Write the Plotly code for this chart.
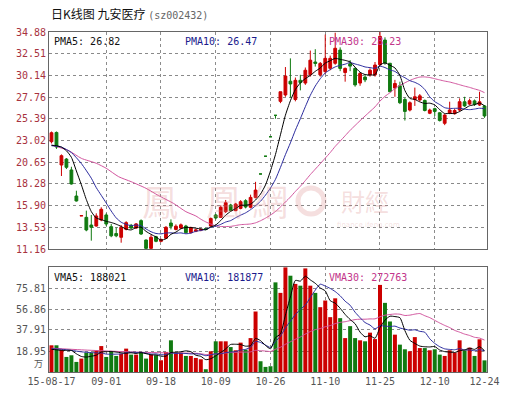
import plotly.graph_objects as go

# ---------------- data ----------------
opens = [22.89, 23.9, 20.34, 20.99, 19.8, 16.95, 14.78, 14.62, 13.78, 13.67,
         14.33, 14.88, 13.6, 12.85, 12.44, 13.31, 13.75, 13.45, 14.26, 12.14,
         11.23, 12.5, 12.0, 12.33, 14.0, 13.3, 13.45, 13.67, 12.95, 13.1,
         13.2, 13.4, 13.67, 14.88, 14.62, 15.24, 15.97, 15.35, 15.6, 16.44,
         15.72, 16.8, 19.36, 21.3, 23.43, 25.77, 27.3, 28.0, 29.5, 27.5,
         29.6, 29.3, 30.2, 31.6, 30.2, 30.55, 30.91, 31.46, 32.9, 30.45,
         31.4, 30.9, 29.3, 29.95, 30.2, 30.2, 31.3, 34.0, 31.46, 28.75,
         29.0, 27.5, 26.35, 27.5, 27.45, 27.4, 26.0, 26.5, 26.05, 24.9,
         26.0, 25.95, 26.35, 27.25, 27.0, 27.35, 26.9, 26.8]
highs = [24.0, 24.0, 21.5, 21.1, 20.15, 17.53, 14.8, 15.35, 14.88, 15.06,
         15.72, 15.06, 13.9, 13.5, 13.78, 14.2, 13.9, 14.0, 14.4, 12.2,
         12.7, 12.6, 12.3, 13.67, 14.4, 13.85, 13.95, 13.8, 13.6, 13.35,
         13.4, 13.45, 14.6, 15.0, 15.93, 16.52, 16.1, 16.2, 16.5, 16.6,
         17.1, 18.5, 19.36, 21.3, 23.43, 25.77, 28.35, 31.05, 32.0, 29.9,
         30.2, 31.0, 32.85, 33.0, 31.6, 34.6, 32.3, 34.8, 33.2, 31.0,
         31.8, 31.0, 30.5, 30.2, 30.9, 31.6, 34.88, 34.3, 31.5, 29.65,
         29.45, 27.7, 27.3, 28.8, 28.1, 27.5, 26.5, 26.6, 26.1, 25.9,
         27.26, 26.5, 27.63, 27.8, 27.6, 27.5, 28.35, 26.9]
lows = [22.7, 22.1, 19.14, 19.9, 18.2, 16.35, 14.78, 13.1, 12.07, 13.6,
        14.2, 13.67, 12.45, 12.45, 11.85, 13.2, 13.35, 13.35, 12.7, 11.16,
        11.16, 11.9, 11.9, 12.3, 13.3, 13.2, 13.35, 12.85, 12.85, 13.0,
        13.1, 13.2, 13.6, 14.4, 14.55, 15.1, 15.3, 15.3, 15.5, 15.6,
        15.6, 16.7, 19.36, 21.3, 23.43, 25.4, 27.1, 27.8, 27.7, 27.3,
        28.5, 29.1, 30.0, 31.1, 30.0, 30.3, 30.7, 31.3, 30.6, 29.45,
        30.6, 28.9, 29.0, 29.4, 30.0, 30.0, 31.2, 31.3, 28.35, 27.8,
        27.0, 25.2, 26.2, 26.8, 27.3, 26.2, 25.9, 25.7, 25.1, 24.7,
        25.9, 25.85, 26.2, 26.7, 26.9, 26.8, 26.8, 25.5]
closes = [23.87, 22.31, 21.36, 20.09, 18.27, 16.41, 14.8, 13.24, 13.53, 14.77,
          15.5, 13.89, 12.6, 12.6, 13.53, 14.04, 13.45, 13.9, 12.8, 11.23,
          12.44, 12.0, 12.2, 13.53, 13.65, 13.65, 13.8, 12.95, 13.5, 13.25,
          13.3, 13.3, 14.5, 14.55, 15.72, 16.22, 15.35, 16.08, 16.33, 15.75,
          16.8, 17.6, 19.36, 21.3, 23.43, 25.77, 28.35, 30.07, 29.2, 29.6,
          29.35, 30.7, 31.8, 31.45, 31.45, 32.0, 32.0, 33.1, 30.9, 30.9,
          31.15, 29.1, 30.35, 29.65, 30.7, 31.27, 34.4, 31.5, 28.35, 29.25,
          27.15, 26.2, 27.15, 27.8, 27.9, 26.3, 26.35, 26.2, 25.2, 25.8,
          26.35, 26.3, 27.26, 26.8, 27.37, 26.95, 27.25, 25.7]
volumes = [24.1, 24.1, 20.2, 13.6, 15.1, 9.1, 12.1, 17.5, 17.5, 19.6,
           23.4, 13.6, 18.7, 14.5, 16.6, 21.1, 15.7, 15.7, 18.1, 12.1,
           15.7, 15.1, 10.6, 18.1, 28.6, 16.6, 17.5, 14.5, 14.5, 12.7,
           11.5, 2.5, 18.7, 27.7, 27.7, 27.7, 22.5, 19.6, 26.5, 20.2,
           30.6, 54.6, 9.7, 4.6, 5.2, 80.9, 71.4, 94.4, 86.9, 79.5,
           77.9, 93.5, 77.9, 71.4, 58.5, 64.5, 49.5, 66.5, 48.6, 30.6,
           41.4, 30.6, 28.6, 27.7, 35.5, 29.7, 78.6, 62.4, 45.6, 33.7,
           24.7, 20.5, 18.7, 31.5, 21.6, 21.6, 19.6, 20.5, 15.7, 14.5,
           19.6, 17.5, 28.6, 19.5, 22.0, 14.5, 29.5, 10.5]

# moving-average values before a full window exists
ma5_head_x, ma5_head_y = [0, 1, 2, 3], [22.5, 22.45, 22.3, 21.9]
ma10_head_x, ma10_head_y = [0, 2, 4, 6, 8], [22.45, 22.3, 21.7, 20.5, 18.9]
ma30_head_x = [0, 3.5, 6, 9, 11, 13.5, 16, 19, 21.5, 24.5, 27]
ma30_head_y = [22.53, 21.9, 21.07, 20.53, 19.98, 19.06, 18.52, 17.79, 17.0, 16.15, 15.24]
vma5_head_x, vma5_head_y = [0, 1, 2, 3], [20.5, 20.0, 19.5, 19.5]
vma10_head_x, vma10_head_y = [0, 2, 4, 6, 8], [21.0, 20.5, 19.5, 18.2, 17.5]
vma30_head_x, vma30_head_y = [0, 6, 12, 18, 24], [21.5, 20.0, 18.8, 17.8, 17.2]

tick_idx = [0, 11, 22, 33, 44, 55, 66, 77, 87]
tick_labels = ["15-08-17", "09-01", "09-18", "10-09", "10-26", "11-10", "11-25", "12-10", "12-24"]
price_ticks = [11.16, 13.53, 15.90, 18.28, 20.65, 23.02, 25.39, 27.76, 30.14, 32.51, 34.88]
price_tick_labels = ["11.16", "13.53", "15.90", "18.28", "20.65", "23.02", "25.39",
                     "27.76", "30.14", "32.51", "34.88"]
vol_ticks = [18.95, 37.91, 56.86, 75.81]
vol_tick_labels = ["18.95", "37.91", "56.86", "75.81"]

title_main = "日K线图 九安医疗"
title_code = "(sz002432)"
pma_labels = ["PMA5: 26.82", "PMA10: 26.47", "PMA30: 28.23"]
vma_labels = ["VMA5: 188021", "VMA10: 181877", "VMA30: 272763"]

# ---------------- styling ----------------
RED = "#cc0000"
GREEN = "#117a11"
C_MA5, C_MA10, C_MA30 = "#000000", "#2b2b9e", "#d2559e"
MONO = "DejaVu Sans Mono"

n = len(closes)
xs = list(range(n))


def rolling(vals, w):
    return [sum(vals[i - w + 1:i + 1]) / w for i in range(w - 1, n)]


def ma_line(head_x, head_y, vals, w):
    return head_x + list(range(w - 1, n)), head_y + rolling(vals, w)


is_red = [c > o for o, c in zip(opens, closes)]

fig = go.Figure()

for flag, col in [(True, RED), (False, GREEN)]:
    sel = [i for i in xs if is_red[i] == flag]
    fig.add_trace(go.Candlestick(
        x=sel,
        open=[opens[i] for i in sel], high=[highs[i] for i in sel],
        low=[lows[i] for i in sel], close=[closes[i] for i in sel],
        increasing=dict(line=dict(color=col, width=1), fillcolor=col),
        decreasing=dict(line=dict(color=col, width=1), fillcolor=col),
        whiskerwidth=0, xaxis="x", yaxis="y", showlegend=False, hoverinfo="skip"))

for hx, hy, w, col in [(ma30_head_x, ma30_head_y, 30, C_MA30),
                       (ma10_head_x, ma10_head_y, 10, C_MA10),
                       (ma5_head_x, ma5_head_y, 5, C_MA5)]:
    lx, ly = ma_line(hx, hy, closes, w)
    fig.add_trace(go.Scatter(x=lx, y=ly, mode="lines", line=dict(color=col, width=1, shape="spline", smoothing=0.6),
                             xaxis="x", yaxis="y", showlegend=False, hoverinfo="skip"))

fig.add_trace(go.Bar(x=xs, y=volumes, marker=dict(color=[RED if r else GREEN for r in is_red], line=dict(width=0)),
                     xaxis="x2", yaxis="y2", showlegend=False, hoverinfo="skip"))

for hx, hy, w, col in [(vma30_head_x, vma30_head_y, 30, C_MA30),
                       (vma10_head_x, vma10_head_y, 10, C_MA10),
                       (vma5_head_x, vma5_head_y, 5, C_MA5)]:
    lx, ly = ma_line(hx, hy, volumes, w)
    fig.add_trace(go.Scatter(x=lx, y=ly, mode="lines", line=dict(color=col, width=1, shape="spline", smoothing=0.6),
                             xaxis="x2", yaxis="y2", showlegend=False, hoverinfo="skip"))

# ---------------- layout ----------------
L, R, T, B, W, H = 49, 26, 32, 27, 513, 399
PW, PH = W - L - R, H - T - B


def px(x):
    return (x - L) / PW


def py(y):
    return (H - B - y) / PH


frame = dict(showline=True, mirror=True, linecolor="#666666", linewidth=1, zeroline=False)
xgrid_minor = dict(tickvals=tick_idx[1:-1], showgrid=True, gridcolor="#8c8c8c", griddash="dot", gridwidth=1, ticks="")

fig.update_layout(
    width=W, height=H, margin=dict(l=L, r=R, t=T, b=B),
    paper_bgcolor="white", plot_bgcolor="white",
    boxgap=0.2, bargap=0.2,
    xaxis=dict(domain=[0, 1], anchor="y", range=[-0.5, n - 0.5], showticklabels=False, showgrid=False,
               rangeslider=dict(visible=False), minor=xgrid_minor, fixedrange=True, **frame),
    yaxis=dict(domain=[py(249), 1], anchor="x", range=[price_ticks[0], price_ticks[-1]],
               tickvals=price_ticks, ticktext=price_tick_labels,
               tickfont=dict(family=MONO, size=10, color="#a8323e"),
               showgrid=True, gridcolor="#8a8a8a", griddash="dot", gridwidth=1, ticks="", **frame),
    xaxis2=dict(domain=[0, 1], anchor="y2", range=[-0.5, n - 0.5], tickvals=tick_idx, ticktext=tick_labels,
                tickfont=dict(family=MONO, size=10, color="#555555"), showgrid=False, ticks="",
                minor=xgrid_minor, **frame),
    yaxis2=dict(domain=[0, py(267)], anchor="x2", range=[0, 94.76], tickvals=vol_ticks, ticktext=vol_tick_labels,
                tickfont=dict(family=MONO, size=10, color="#555555"),
                showgrid=True, gridcolor="#8a8a8a", griddash="dot", gridwidth=1, ticks="", **frame),
)

ann = []
ann.append(dict(x=px(49), y=py(14), xref="paper", yref="paper", xanchor="left", yanchor="middle", showarrow=False,
                text=f"<span style='color:#111'>{title_main}</span> <span style='color:#666;font-family:{MONO};font-size:10px'>{title_code}</span>",
                font=dict(family="Noto Sans CJK SC", size=12)))
for lbl, xpos, col in zip(pma_labels, [52, 183, 327], ["#111111", "#1a1a8c", "#c2358a"]):
    ann.append(dict(x=px(xpos), y=py(41), xref="paper", yref="paper", xanchor="left", yanchor="middle",
                    showarrow=False, text=lbl, font=dict(family=MONO, size=10, color=col)))
for lbl, xpos, col in zip(vma_labels, [52, 183, 327], ["#111111", "#1a1a8c", "#c2358a"]):
    ann.append(dict(x=px(xpos), y=py(277), xref="paper", yref="paper", xanchor="left", yanchor="middle",
                    showarrow=False, text=lbl, font=dict(family=MONO, size=10, color=col)))
ann.append(dict(x=px(45), y=py(363), xref="paper", yref="paper", xanchor="right", yanchor="middle",
                showarrow=False, text="万", font=dict(family="Noto Sans CJK SC", size=9, color="#555555")))
# faint watermark
wm = "rgba(215,130,130,0.26)"
for ch, xc in zip(["鳳", "凰", "網"], [160, 224, 270]):
    ann.append(dict(x=px(xc), y=py(200), xref="paper", yref="paper", xanchor="center", yanchor="middle",
                    showarrow=False, text=ch, font=dict(family="Noto Sans CJK TC", size=36, color=wm)))
ann.append(dict(x=px(365), y=py(200), xref="paper", yref="paper", xanchor="center", yanchor="middle",
                showarrow=False, text="財經", font=dict(family="Noto Sans CJK TC", size=24, color=wm)))
ann.append(dict(x=px(368), y=py(225), xref="paper", yref="paper", xanchor="center", yanchor="middle",
                showarrow=False, text="finance.ifeng.com", font=dict(family="DejaVu Sans", size=7, color=wm)))
fig.update_layout(annotations=ann)
fig.add_shape(type="circle", xref="paper", yref="paper", x0=px(298), x1=px(324), y0=py(214), y1=py(188),
              line=dict(color=wm, width=5))

fig.write_html("out.html", config={"displayModeBar": False, "staticPlot": True},
               post_script="document.body.style.margin='0px';")
